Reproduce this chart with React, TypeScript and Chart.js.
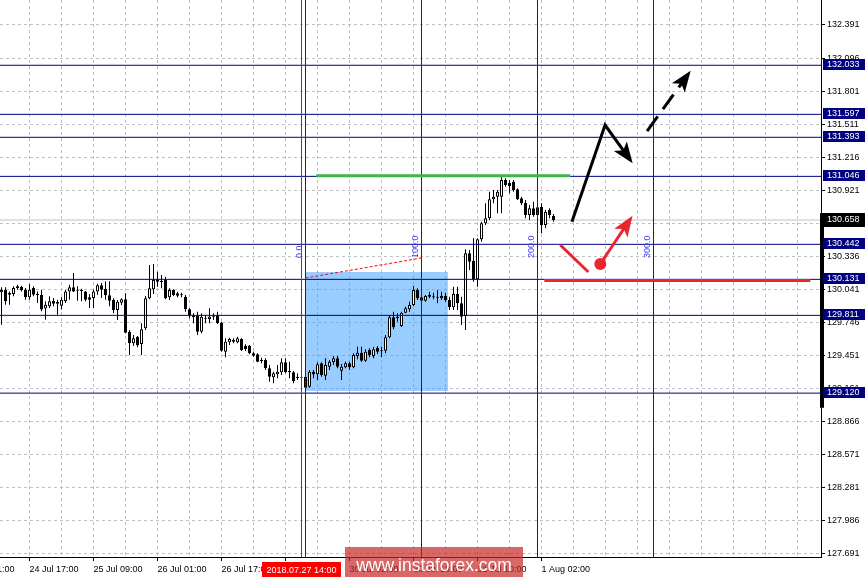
import React, { useEffect, useRef } from "react";
import { Chart, registerables } from "chart.js";

Chart.register(...registerables);

// ---------- DATA ----------
const opens = [
  130.016, 130.039, 130.009, 130.000, 130.069, 130.063, 130.039, 129.972, 130.054, 130.000,
  129.994, 129.871, 129.892, 129.941, 129.930, 129.897, 129.936, 130.024, 130.060, 130.033,
  130.030, 130.024, 129.972, 129.965, 130.024, 130.078, 130.048, 129.989, 129.948, 129.859,
  129.924, 129.954, 129.666, 129.563, 129.621, 129.557, 129.696, 129.963, 130.043, 130.125,
  130.119, 130.125, 129.972, 130.036, 130.007, 129.998, 129.977, 129.865, 129.805, 129.805,
  129.666, 129.790, 129.776, 129.799, 129.814, 129.746, 129.488, 129.572, 129.592, 129.572,
  129.601, 129.542, 129.542, 129.474, 129.465, 129.414, 129.414, 129.341, 129.261, 129.287,
  129.305, 129.394, 129.317, 129.305, 129.266, 129.261, 129.266, 129.177, 129.311, 129.287,
  129.385, 129.275, 129.355, 129.394, 129.430, 129.319, 129.350, 129.385, 129.350, 129.450,
  129.479, 129.408, 129.503, 129.450, 129.524, 129.497, 129.497, 129.616, 129.794, 129.799,
  129.717, 129.835, 129.865, 129.903, 130.036, 129.972, 129.941, 129.992, 129.977, 129.972,
  129.963, 129.983, 129.948, 129.883, 130.000, 129.918, 129.805, 130.362, 130.297, 130.131,
  130.487, 130.629, 130.673, 130.842, 130.865, 130.865, 131.014, 130.990, 130.999, 130.931,
  130.851, 130.812, 130.703, 130.762, 130.703, 130.777, 130.614, 130.747, 130.694,
];
const highs = [
  130.060, 130.060, 130.024, 130.069, 130.083, 130.074, 130.054, 130.090, 130.069, 130.024,
  130.039, 129.936, 129.980, 129.965, 129.950, 129.972, 130.039, 130.083, 130.188, 130.069,
  130.048, 130.027, 130.000, 130.039, 130.092, 130.098, 130.113, 130.113, 129.963, 129.948,
  129.963, 130.007, 129.681, 129.637, 129.628, 129.740, 129.983, 130.259, 130.267, 130.199,
  130.170, 130.155, 130.051, 130.043, 130.021, 130.012, 129.992, 129.874, 129.830, 129.844,
  129.830, 129.814, 129.874, 129.830, 129.844, 129.755, 129.607, 129.613, 129.607, 129.621,
  129.607, 129.554, 129.548, 129.488, 129.474, 129.435, 129.430, 129.370, 129.311, 129.370,
  129.430, 129.430, 129.399, 129.317, 129.296, 129.272, 129.275, 129.326, 129.326, 129.394,
  129.394, 129.430, 129.414, 129.450, 129.450, 129.379, 129.399, 129.399, 129.474, 129.533,
  129.533, 129.510, 129.518, 129.533, 129.539, 129.533, 129.637, 129.814, 129.844, 129.830,
  129.844, 129.888, 129.933, 130.072, 130.051, 129.983, 129.992, 130.021, 130.012, 130.036,
  130.021, 130.012, 129.977, 130.066, 130.066, 129.977, 130.398, 130.392, 130.496, 130.496,
  130.643, 130.807, 130.910, 130.925, 130.925, 131.058, 131.029, 131.014, 131.014, 130.940,
  130.865, 130.836, 130.792, 130.821, 130.807, 130.807, 130.747, 130.762, 130.712,
];
const lows = [
  129.728, 129.906, 129.906, 129.980, 130.039, 130.024, 129.950, 129.950, 129.980, 129.921,
  129.847, 129.773, 129.877, 129.892, 129.817, 129.862, 129.921, 129.950, 130.018, 129.941,
  129.936, 129.936, 129.877, 129.877, 129.994, 129.965, 129.950, 129.892, 129.830, 129.770,
  129.903, 129.651, 129.459, 129.539, 129.527, 129.459, 129.681, 129.954, 130.000, 130.066,
  130.051, 129.954, 129.948, 129.983, 129.972, 129.972, 129.844, 129.785, 129.741, 129.637,
  129.651, 129.741, 129.741, 129.770, 129.734, 129.488, 129.438, 129.548, 129.563, 129.563,
  129.494, 129.494, 129.465, 129.444, 129.394, 129.385, 129.326, 129.222, 129.207, 129.252,
  129.281, 129.296, 129.252, 129.207, 129.237, 129.245, 129.157, 129.168, 129.252, 129.237,
  129.266, 129.237, 129.326, 129.370, 129.341, 129.237, 129.341, 129.326, 129.341, 129.421,
  129.399, 129.399, 129.438, 129.430, 129.468, 129.438, 129.474, 129.607, 129.687, 129.755,
  129.708, 129.830, 129.844, 129.894, 129.948, 129.933, 129.933, 129.963, 129.954, 129.918,
  129.948, 129.933, 129.859, 129.859, 129.859, 129.725, 129.681, 130.214, 130.110, 130.066,
  130.466, 130.614, 130.658, 130.807, 130.718, 130.718, 130.954, 130.896, 130.910, 130.836,
  130.792, 130.673, 130.658, 130.688, 130.688, 130.540, 130.585, 130.673, 130.643,
];
const closes = [
  130.039, 129.936, 129.994, 130.054, 130.054, 130.033, 129.972, 130.039, 129.994, 129.989,
  129.862, 129.906, 129.936, 129.915, 129.915, 129.950, 130.024, 130.060, 130.024, 130.030,
  130.027, 129.950, 129.950, 130.024, 130.078, 130.039, 129.989, 129.941, 129.859, 129.933,
  129.954, 129.657, 129.563, 129.607, 129.548, 129.687, 129.963, 130.051, 130.125, 130.110,
  130.107, 129.963, 130.036, 129.992, 129.986, 129.989, 129.865, 129.814, 129.794, 129.666,
  129.799, 129.781, 129.799, 129.794, 129.741, 129.497, 129.577, 129.601, 129.577, 129.607,
  129.503, 129.512, 129.474, 129.453, 129.399, 129.405, 129.341, 129.266, 129.296, 129.311,
  129.394, 129.305, 129.305, 129.228, 129.252, 129.257, 129.168, 129.311, 129.287, 129.376,
  129.281, 129.370, 129.399, 129.430, 129.355, 129.355, 129.385, 129.350, 129.459, 129.479,
  129.408, 129.488, 129.459, 129.510, 129.488, 129.492, 129.616, 129.794, 129.705, 129.785,
  129.835, 129.874, 129.903, 130.036, 129.963, 129.941, 129.983, 129.977, 129.972, 129.968,
  129.983, 129.948, 129.883, 130.000, 129.918, 129.799, 130.362, 130.288, 130.131, 130.487,
  130.629, 130.673, 130.842, 130.865, 130.910, 131.014, 130.969, 130.960, 130.925, 130.842,
  130.807, 130.703, 130.762, 130.703, 130.771, 130.614, 130.732, 130.703, 130.658,
];

const yTicks = [
  132.391, 132.096, 131.801, 131.511, 131.216, 130.921, 130.626, 130.336, 130.041,
  129.746, 129.451, 129.161, 128.866, 128.571, 128.281, 127.986, 127.691,
];
const levelLines = [132.033, 131.597, 131.393, 131.046, 130.442, 130.131, 129.811, 129.12];
const lastPrice = 130.658;
const axisBarRange = [130.72, 128.99];

const xLabelIndex = [-9, 7, 23, 39, 55, 71, 87, 103, 119, 135];
const xLabels = [
  "24 Jul 01:00", "24 Jul 17:00", "25 Jul 09:00", "26 Jul 01:00", "26 Jul 17:00",
  "27 Jul 10:00", "30 Jul 02:00", "30 Jul 18:00", "31 Jul 10:00", "1 Aug 02:00",
];
const markerIndex = 75;
const markerLabel = "2018.07.27 14:00";

const fibIndex = [76, 105, 134, 163];
const fibLabels = ["0.0", "100.0", "200.0", "300.0"];
const fibLabelPrice = 130.32;
const fibTrendX = [76, 105];
const fibTrendY = [130.143, 130.321];

const boxX = [75.9, 111.6];
const boxY = [130.196, 129.139];

const greenX = [78.7, 142.2];
const greenY = 131.052;
const redLevelX = [135.7, 202.2];
const redLevelY = 130.121;

const upArrowX = [142.6, 150.9, 157.2];
const upArrowY = [130.643, 131.502, 131.191];
const dashArrowX = [161.4, 171.7];
const dashArrowY = [131.449, 131.955];
const redDipX = [139.7, 146.7];
const redDipY = [130.436, 130.196];
const redArrowX = [149.7, 157.2];
const redArrowY = [130.267, 130.667];

const watermark = "www.instaforex.com";

// ---------- SCALE RANGE ----------
const xMin = -0.375;
const xMax = 204.875;
const yMin = 127.664;
const yMax = 132.613;

const FONT = "9px 'Liberation Sans', Arial, sans-serif";

const pts = (xs: number[], ys: number[]) => xs.map((x, k) => ({ x, y: ys[k] }));

const overlay = {
  id: "overlay",
  afterDatasetsDraw(chart: any) {
    const ctx = chart.ctx;
    chart.data.datasets.forEach((ds: any, i: number) => {
      if (!ds.arrowHead) return;
      const meta = chart.getDatasetMeta(i);
      const n = meta.data.length;
      const a = meta.data[n - 2];
      const b = meta.data[n - 1];
      const ang = Math.atan2(b.y - a.y, b.x - a.x);
      const L = 21;
      const W = 8;
      const tx = b.x + Math.cos(ang) * 4;
      const ty = b.y + Math.sin(ang) * 4;
      const bx = tx - Math.cos(ang) * L;
      const by = ty - Math.sin(ang) * L;
      ctx.save();
      ctx.fillStyle = ds.borderColor;
      ctx.beginPath();
      ctx.moveTo(tx, ty);
      ctx.lineTo(bx + Math.sin(ang) * W, by - Math.cos(ang) * W);
      ctx.lineTo(tx - Math.cos(ang) * (L - 5), ty - Math.sin(ang) * (L - 5));
      ctx.lineTo(bx - Math.sin(ang) * W, by + Math.cos(ang) * W);
      ctx.closePath();
      ctx.fill();
      ctx.restore();
    });
  },
  afterDraw(chart: any) {
    const ctx = chart.ctx;
    const xs = chart.scales.x;
    const ys = chart.scales.y;
    const area = chart.chartArea;
    ctx.save();
    ctx.font = FONT;
    ctx.textAlign = "left";
    ctx.textBaseline = "middle";
    ctx.fillStyle = "#000";
    ys.ticks.forEach((t: any) => {
      ctx.fillText(t.value.toFixed(3), area.right + 6, ys.getPixelForValue(t.value));
    });
    // thick axis segment
    const bt = ys.getPixelForValue(axisBarRange[0]);
    const bb = ys.getPixelForValue(axisBarRange[1]);
    ctx.fillStyle = "#000";
    ctx.fillRect(area.right - 1, bt, 4, bb - bt);
    // level labels
    levelLines.forEach((v) => {
      const py = Math.round(ys.getPixelForValue(v));
      ctx.fillStyle = "#000080";
      ctx.fillRect(area.right + 2, py - 6, 42, 11);
      ctx.fillStyle = "#fff";
      ctx.fillText(v.toFixed(3), area.right + 6, py - 0.5);
    });
    // last price
    const lp = Math.round(ys.getPixelForValue(lastPrice));
    ctx.fillStyle = "#000";
    ctx.fillRect(area.right, lp - 7, 44, 14);
    ctx.fillStyle = "#fff";
    ctx.fillText(lastPrice.toFixed(3), area.right + 6, lp);

    // x labels
    ctx.textBaseline = "alphabetic";
    ctx.fillStyle = "#000";
    xLabelIndex.forEach((v, k) => {
      const px = xs.getPixelForValue(v);
      ctx.fillText(xLabels[k], px, 572);
    });
    // marker label
    const mx = xs.getPixelForValue(markerIndex);
    const mw = ctx.measureText(markerLabel).width + 9;
    ctx.fillStyle = "#ff0000";
    ctx.fillRect(Math.round(mx - mw / 2), 562, Math.round(mw), 15);
    ctx.fillStyle = "#fff";
    ctx.textAlign = "center";
    ctx.fillText(markerLabel, mx, 573);

    // fib labels (rotated)
    ctx.fillStyle = "#3c3cff";
    ctx.textAlign = "left";
    const fy = ys.getPixelForValue(fibLabelPrice);
    fibIndex.forEach((f, k) => {
      const px = xs.getPixelForValue(f);
      ctx.save();
      ctx.translate(px - 4, fy);
      ctx.rotate(-Math.PI / 2);
      ctx.fillText(fibLabels[k], 0, 0);
      ctx.restore();
    });

    // watermark
    ctx.fillStyle = "rgba(200,40,40,0.7)";
    ctx.fillRect(345, 547, 178, 30);
    ctx.fillStyle = "#fff";
    ctx.font = "17.5px 'Liberation Sans', Arial, sans-serif";
    ctx.textAlign = "center";
    ctx.fillText(watermark, 434, 571);
    ctx.restore();
  },
};

export default function App() {
  const ref = useRef<HTMLCanvasElement>(null);
  useEffect(() => {
    const idx = opens.map((_, i) => i);
    const bodyColors = idx.map((i) => (closes[i] >= opens[i] ? "#ffffff" : "#000000"));
    const lineDs = (data: any[], color: string, width: number, order: number, extra: any = {}) => ({
      type: "line",
      data,
      borderColor: color,
      backgroundColor: color,
      borderWidth: width,
      pointRadius: 0,
      tension: 0,
      fill: false,
      order,
      ...extra,
    });
    const datasets: any[] = [
      lineDs(pts([redArrowX[0]], [redArrowY[0]]), "#e8262e", 0, 1, {
        showLine: false,
        pointRadius: 6,
        pointBackgroundColor: "#e8262e",
        pointBorderWidth: 0,
      }),
      lineDs(pts(upArrowX, upArrowY), "#000000", 3, 2, { arrowHead: true }),
      lineDs(pts(dashArrowX, dashArrowY), "#000000", 3, 2, { arrowHead: true, borderDash: [18, 9] }),
      lineDs(pts(redArrowX, redArrowY), "#e8262e", 3, 2, { arrowHead: true }),
      lineDs(pts(redDipX, redDipY), "#e8262e", 3, 2),
      lineDs(pts(greenX, [greenY, greenY]), "#3cb54a", 3, 3),
      lineDs(pts(redLevelX, [redLevelY, redLevelY]), "#e8262e", 3, 3),
      lineDs(pts(fibTrendX, fibTrendY), "#ff0000", 1, 4, { borderDash: [3, 2] }),
      ...fibIndex.map((f) => lineDs(pts([f, f], [yMin, yMax]), "#1010d8", 1, 5)),
      lineDs(pts([markerIndex, markerIndex], [yMin, yMax]), "#ff0000", 1, 5),
      ...levelLines.map((v) => lineDs(pts([xMin, xMax], [v, v]), "#000080", 1, 6)),
      {
        type: "bar",
        data: idx.map((i) => ({ x: i, y: [opens[i], closes[i]] })),
        backgroundColor: bodyColors,
        borderColor: "#000000",
        borderWidth: 1,
        borderSkipped: false,
        barThickness: 3,
        minBarLength: 1,
        grouped: false,
        inflateAmount: 0,
        order: 7,
      },
      {
        type: "bar",
        data: idx.map((i) => ({ x: i, y: [lows[i], highs[i]] })),
        backgroundColor: "#000000",
        borderWidth: 0,
        barThickness: 1,
        grouped: false,
        inflateAmount: 0,
        order: 8,
      },
      lineDs(pts([xMin, xMax], [lastPrice, lastPrice]), "#c0c0c0", 1, 9),
      lineDs(pts(boxX, [boxY[0], boxY[0]]), "rgba(51,153,255,0.5)", 0, 10, {
        fill: { value: boxY[1] },
        backgroundColor: "rgba(51,153,255,0.5)",
      }),
    ];
    const labeled = new Set(xLabelIndex);
    const chart = new Chart(ref.current as HTMLCanvasElement, {
      type: "bar",
      data: { datasets },
      options: {
        animation: false,
        responsive: false,
        events: [],
        devicePixelRatio: 1,
        layout: { padding: 0, autoPadding: false },
        plugins: { legend: { display: false }, tooltip: { enabled: false }, title: { display: false } },
        scales: {
          x: {
            type: "linear",
            min: xMin,
            max: xMax,
            bounds: "data",
            offset: false,
            afterBuildTicks: (s: any) => {
              const t: any[] = [];
              for (let v = 7; v <= xMax; v += 8) t.push({ value: v });
              s.ticks = t;
            },
            afterFit: (s: any) => {
              s.height = 20;
            },
            ticks: { display: false },
            grid: {
              color: "#c0c0c0",
              offset: false,
              drawTicks: true,
              tickLength: 4,
              tickColor: (c: any) => (c.tick && labeled.has(c.tick.value) ? "#000" : "rgba(0,0,0,0)"),
              tickBorderDash: [],
            },
            border: { display: true, color: "#000", width: 1, dash: [3, 3] },
          },
          y: {
            type: "linear",
            position: "right",
            min: yMin,
            max: yMax,
            bounds: "data",
            afterBuildTicks: (s: any) => {
              s.ticks = yTicks.map((v) => ({ value: v }));
            },
            afterFit: (s: any) => {
              s.width = 44;
            },
            ticks: { display: false },
            grid: { color: "#c0c0c0", drawTicks: true, tickLength: 4, tickColor: "#000", tickBorderDash: [] },
            border: { display: true, color: "#000", width: 1, dash: [3, 3] },
          },
        },
      } as any,
      plugins: [overlay],
    } as any);
    return () => chart.destroy();
  }, []);
  return (
    <div style={{ position: "absolute", left: 0, top: 0, width: 865, height: 577, background: "#fff" }}>
      <canvas ref={ref} width={865} height={577} style={{ display: "block", width: 865, height: 577 }} />
    </div>
  );
}
